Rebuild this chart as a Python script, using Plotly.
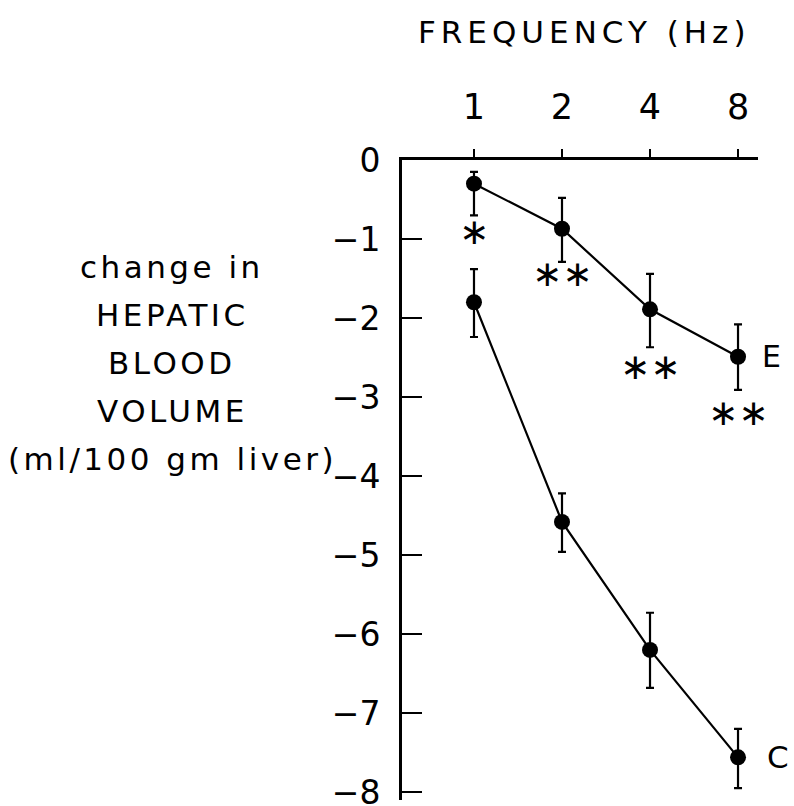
import plotly.graph_objects as go
import math

# ---- data ----
freq = [1, 2, 4, 8]
tick_labels = ["1", "2", "4", "8"]
E_mean = [-0.30, -0.87, -1.89, -2.49]
E_err_up = [0.15, 0.39, 0.45, 0.41]
E_err_down = [0.40, 0.42, 0.48, 0.42]
C_mean = [-1.80, -4.58, -6.20, -7.56]
C_err_up = [0.42, 0.36, 0.47, 0.36]
C_err_down = [0.44, 0.38, 0.48, 0.39]
sig_labels = ["∗", "∗∗", "∗∗", "∗∗"]
sig_y = [-0.91, -1.44, -2.61, -3.20]
y_ticks = [0, -1, -2, -3, -4, -5, -6, -7, -8]
y_title_lines = ["change in", "HEPATIC", "BLOOD", "VOLUME", "(ml/100 gm liver)"]

FONT = "DejaVu Sans"
W, H = 794, 806
L, R, T, B = 402, 36, 160, 6
PW, PH = W - L - R, H - T - B


def px(xp):
    return (xp - L) / PW


def py(yp):
    return (H - B - yp) / PH


def spaced(s, sp):
    return f'<span style="letter-spacing:{sp}px">{s}</span>'


fig = go.Figure()
for mean, up, down in [(E_mean, E_err_up, E_err_down), (C_mean, C_err_up, C_err_down)]:
    fig.add_trace(go.Scatter(
        x=freq, y=mean, mode="lines+markers",
        line=dict(color="black", width=2.2),
        marker=dict(color="black", size=16),
        error_y=dict(type="data", symmetric=False, array=up, arrayminus=down,
                     color="black", thickness=2.2, width=4),
        showlegend=False, cliponaxis=False,
    ))

annotations = []
for xv, lab, yv in zip(freq, sig_labels, sig_y):
    annotations.append(dict(x=math.log10(xv), y=yv, xref="x", yref="y", text=lab,
                            showarrow=False, font=dict(family=FONT, size=36, color="black"),
                            xanchor="center", yanchor="middle"))
annotations.append(dict(x=math.log10(freq[-1]), y=E_mean[-1], xref="x", yref="y", text="E",
                        showarrow=False, xshift=22, xanchor="left", yanchor="middle",
                        font=dict(family=FONT, size=30, color="black")))
annotations.append(dict(x=math.log10(freq[-1]), y=C_mean[-1], xref="x", yref="y", text="C",
                        showarrow=False, xshift=27, xanchor="left", yanchor="middle",
                        font=dict(family=FONT, size=31, color="black")))
annotations.append(dict(x=px(584), y=py(32), xref="paper", yref="paper",
                        text=spaced("FREQUENCY (Hz)", 5),
                        showarrow=False, xanchor="center", yanchor="middle",
                        font=dict(family=FONT, size=31, color="black")))
for i, line in enumerate(y_title_lines):
    annotations.append(dict(x=px(172), y=py(267 + 48 * i), xref="paper", yref="paper",
                            text=spaced(line, 3.5),
                            showarrow=False, xanchor="center", yanchor="middle",
                            font=dict(family=FONT, size=31, color="black")))

x_lo = math.log10(2 ** -0.818)
x_hi = math.log10(2 ** 3.227)

fig.update_layout(
    width=W, height=H,
    margin=dict(l=L, r=R, t=T, b=B, pad=0),
    paper_bgcolor="white", plot_bgcolor="white",
    font=dict(family=FONT, color="black"),
    xaxis=dict(type="log", side="top", range=[x_lo, x_hi], automargin=False,
               tickvals=freq, ticktext=tick_labels,
               ticks="outside", ticklen=8, tickwidth=2, tickcolor="black",
               showline=True, linewidth=3, linecolor="black",
               showgrid=False, zeroline=False,
               tickfont=dict(family=FONT, size=35, color="black"),
               ticklabelstandoff=16),
    yaxis=dict(range=[-8.1, 0], tickvals=y_ticks, automargin=False,
               ticktext=[str(v) if v == 0 else "−" + str(-v) for v in y_ticks],
               ticks="inside", ticklen=20, tickwidth=2, tickcolor="black",
               showline=True, linewidth=3, linecolor="black",
               showgrid=False, zeroline=False,
               tickfont=dict(family=FONT, size=33, color="black"),
               ticklabelstandoff=12, ticklabeloverflow="allow"),
    annotations=annotations,
)

fig.write_html("out.html")
